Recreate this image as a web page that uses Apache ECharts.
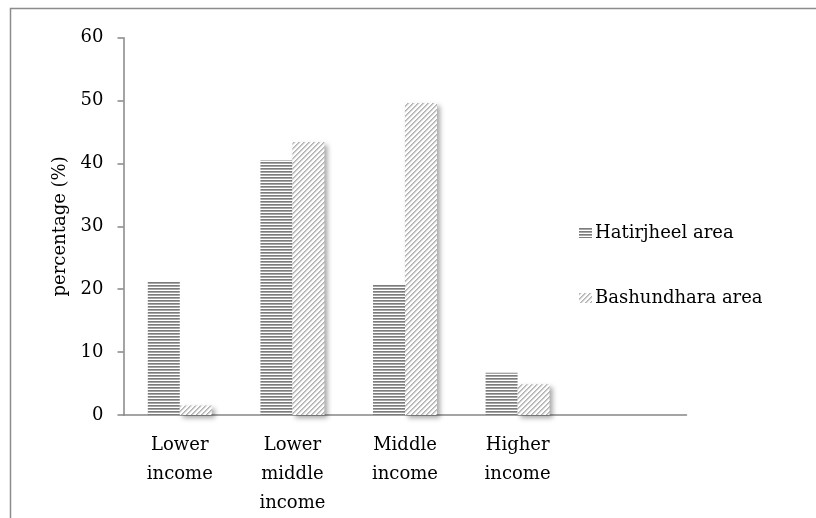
<!DOCTYPE html>
<html>
<head>
<meta charset="utf-8">
<script src="https://cdn.jsdelivr.net/npm/echarts@6/dist/echarts.min.js"></script>
<style>
html,body{margin:0;padding:0;background:#fff;}
#chart{width:816px;height:518px;}
</style>
</head>
<body>
<div id="chart"></div>
<script>
var categories = ['Lower\nincome', 'Lower\nmiddle\nincome', 'Middle\nincome', 'Higher\nincome', ''];
var seriesNames = ['Hatirjheel area', 'Bashundhara area'];
var hatirjheel = [21.3, 40.5, 20.7, 6.7, null];
var bashundhara = [1.5, 43.4, 49.6, 4.9, null];
var yTicks = [0, 10, 20, 30, 40, 50, 60];

function hPattern() {
  var c = document.createElement('canvas');
  c.width = 4; c.height = 3;
  var ctx = c.getContext('2d');
  ctx.fillStyle = '#ffffff'; ctx.fillRect(0, 0, 4, 3);
  ctx.fillStyle = '#7c7c7c'; ctx.fillRect(0, 0, 4, 1);
  ctx.fillStyle = '#a6a6a6'; ctx.fillRect(0, 1, 4, 1);
  return c;
}
function dPattern() {
  var n = 5;
  var c = document.createElement('canvas');
  c.width = n; c.height = n;
  var ctx = c.getContext('2d');
  var img = ctx.createImageData(n, n);
  for (var y = 0; y < n; y++) {
    for (var x = 0; x < n; x++) {
      var d = (x + y) % n;
      var v = d === 0 ? 178 : (d === 1 ? 200 : (d === 2 ? 238 : 255));
      var i = (y * n + x) * 4;
      img.data[i] = v; img.data[i + 1] = v; img.data[i + 2] = v; img.data[i + 3] = 255;
    }
  }
  ctx.putImageData(img, 0, 0);
  return c;
}

var font = 'DejaVu Serif';
var chart = echarts.init(document.getElementById('chart'), null, {renderer: 'canvas'});
chart.setOption({
  animation: false,
  backgroundColor: '#ffffff',
  graphic: [{
    type: 'rect',
    shape: {x: 10.5, y: 8.5, width: 900, height: 600},
    style: {fill: 'none', stroke: '#8c8c8c', lineWidth: 1.5},
    silent: true
  }],
  grid: {left: 123.5, top: 37.7, right: 129.5, bottom: 102.3, containLabel: false},
  legend: {
    orient: 'vertical',
    left: 574,
    top: 219,
    itemWidth: 13,
    itemHeight: 10,
    itemGap: 47,
    icon: 'rect',
    textStyle: {fontFamily: font, fontSize: 18, color: '#000', padding: [0, 0, 0, -2]},
    data: seriesNames
  },
  xAxis: {
    type: 'category',
    data: categories,
    axisLine: {lineStyle: {color: '#868686', width: 1.5}},
    axisTick: {length: 5, lineStyle: {color: '#868686', width: 1.5}},
    axisLabel: {fontFamily: font, fontSize: 18, color: '#000', lineHeight: 29, margin: 16, interval: 0}
  },
  yAxis: {
    type: 'value',
    min: 0, max: 60, interval: 10,
    name: 'percentage (%)',
    nameLocation: 'middle',
    nameGap: 50,
    nameRotate: 90,
    nameTextStyle: {fontFamily: font, fontSize: 18, color: '#000'},
    splitLine: {show: false},
    axisLine: {show: true, lineStyle: {color: '#868686', width: 1.5}},
    axisTick: {show: true, length: 6, lineStyle: {color: '#868686', width: 1.5}},
    axisLabel: {fontFamily: font, fontSize: 18, color: '#000', margin: 20,
      formatter: function (v) { return yTicks.indexOf(v) >= 0 ? String(v) : ''; }}
  },
  series: [
    {
      name: seriesNames[0],
      type: 'bar',
      data: hatirjheel,
      barWidth: 32,
      barGap: '0%',
      itemStyle: {color: {image: hPattern(), repeat: 'repeat'}}
    },
    {
      name: seriesNames[1],
      type: 'bar',
      data: bashundhara,
      barWidth: 32,
      barGap: '0%',
      itemStyle: {
        color: {image: dPattern(), repeat: 'repeat'},
        shadowBlur: 5, shadowOffsetX: 3, shadowOffsetY: 3, shadowColor: 'rgba(0,0,0,0.35)'
      }
    }
  ]
});
</script>
</body>
</html>
